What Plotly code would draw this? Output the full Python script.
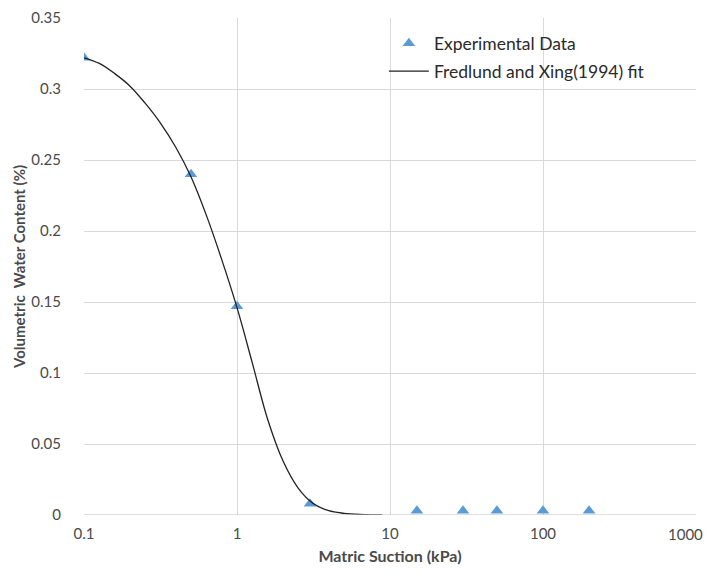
import plotly.graph_objects as go

# Experimental data
exp_suction = [0.1, 0.5, 1.0, 3.0, 15, 30, 50, 100, 200]
exp_theta = [0.322, 0.240, 0.147, 0.008, 0.003, 0.003, 0.003, 0.003, 0.003]

# Fredlund and Xing (1994) fit
fit_suction = [0.1, 0.126, 0.158, 0.2, 0.251, 0.316, 0.398, 0.501, 0.631, 0.794, 1.0,
               1.26, 1.58, 2.0, 2.51, 3.16, 3.98, 5.01, 6.31, 7.94, 8.9]
fit_theta = [0.322, 0.318, 0.311, 0.302, 0.290, 0.276, 0.259, 0.238, 0.211, 0.180, 0.146,
             0.107, 0.068, 0.038, 0.019, 0.008, 0.003, 0.0012, 0.0004, 0.0001, 0.0]

x_tickvals = [0.1, 1, 10, 100, 1000]
x_ticktext = ["0.1", "1", "10", "100", ""]
x_last_label = "1000"
y_tickvals = [0, 0.05, 0.1, 0.15, 0.2, 0.25, 0.3, 0.35]
y_ticktext = ["0", "0.05", "0.1", "0.15", "0.2", "0.25", "0.3", "0.35"]

font_family = "Lato, Open Sans, sans-serif"
text_color = "#4A4A4A"

fig = go.Figure()
fig.add_trace(go.Scatter(
    x=exp_suction, y=exp_theta, mode="markers", name="Experimental Data",
    legendgroup="a",
    marker=dict(symbol="triangle-up", size=11, color="#5B9BD5"),
))
fig.add_trace(go.Scatter(
    x=fit_suction, y=fit_theta, mode="lines", name="Fredlund and Xing(1994) fit",
    legendgroup="b",
    line=dict(color="#222222", width=1.3, shape="spline", smoothing=1.0),
))

fig.update_layout(
    width=705, height=559,
    margin=dict(l=76, r=17, t=10, b=52),
    paper_bgcolor="white", plot_bgcolor="white",
    font=dict(family=font_family, size=15, color=text_color),
    showlegend=True,
    legend=dict(x=0.490, y=0.985, xanchor="left", yanchor="top",
                bgcolor="rgba(0,0,0,0)", font=dict(size=17.5, color="#2A2A2A"),
                tracegroupgap=2, itemwidth=40),
    xaxis=dict(
        type="log", range=[-1, 3], tickvals=x_tickvals, ticktext=x_ticktext,
        showgrid=True, gridcolor="#D9D9D9", gridwidth=1,
        zeroline=False, showline=False, ticks="", automargin=False,
        ticklabelstandoff=8, ticklabeloverflow="allow",
        tickfont=dict(size=15, color=text_color),
        title=dict(text="<b>Matric Suction (kPa)</b>", font=dict(size=16, color=text_color), standoff=9),
    ),
    yaxis=dict(
        range=[0, 0.35], tickvals=y_tickvals, ticktext=y_ticktext,
        showgrid=True, gridcolor="#D9D9D9", gridwidth=1,
        zeroline=False, showline=False, ticks="", automargin=False,
        ticklabelstandoff=22,
        tickfont=dict(size=15, color=text_color),
        title=dict(text="<b>Volumetric  Water Content (%)</b>", font=dict(size=15, color=text_color), standoff=2),
    ),
)
# last x tick label, kept inside the page edge
fig.add_annotation(x=3, y=0, xref="x", yref="y", text=x_last_label, showarrow=False,
                   xanchor="right", yanchor="top", xshift=9, yshift=-8,
                   font=dict(size=15, color=text_color))
# x axis baseline at y=0
fig.add_shape(type="line", xref="paper", yref="y", x0=0, x1=1, y0=0, y1=0,
              line=dict(color="#BFBFBF", width=1))

fig.write_html("out.html")
